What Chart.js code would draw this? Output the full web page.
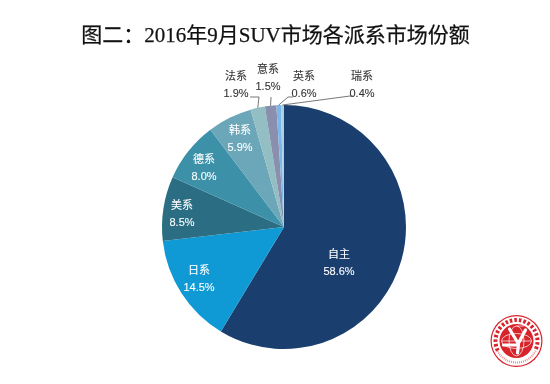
<!DOCTYPE html>
<html>
<head>
<meta charset="utf-8">
<script src="https://cdn.jsdelivr.net/npm/chart.js@4"></script>
<style>
  html, body { margin: 0; padding: 0; background: #fff; }
  canvas { display: block; }
</style>
</head>
<body>
<canvas id="pie" width="550" height="384"></canvas>
<script>
// --- data ---
const titleText = "图二：2016年9月SUV市场各派系市场份额";
const categories = ["自主", "日系", "美系", "德系", "韩系", "法系", "意系", "英系", "瑞系"];
const shares = [58.6, 14.5, 8.5, 8.0, 5.9, 1.9, 1.5, 0.6, 0.4];
const sliceColors = ["#1a3f6e", "#0f9ad6", "#2b6e84", "#3c91a9", "#6ba7b9", "#93bfc4", "#8a8fad", "#7db6e8", "#abd0e2"];

// label centre, as offset from pie centre
const labelOffsets = [[55, 35], [-85, 51], [-102, -14], [-80, -60], [-44, -89], [-48, -143], [-16, -150], [20, -143], [78, -143]];
// leader lines (elbow and end, offset from pie centre), only for the small slices
const leaders = {
  5: [[-25, -130], [-34, -130]],
  6: [[-13, -130], [-13, -130]],
  7: [[4, -130], [9, -130]],
  8: [[66, -131], [69, -131]],
};
const labelColors = ["#fff", "#fff", "#fff", "#fff", "#fff", "#333", "#333", "#333", "#333"];

const sansFont = '"Liberation Sans", "Noto Sans CJK SC", sans-serif';
const serifFont = '"Liberation Serif", "Noto Sans CJK SC", serif';

// text with a hair of stroke, the original is heavier than the regular weight
function heavyText(ctx, text, x, y, color, weight) {
  ctx.fillStyle = color;
  ctx.strokeStyle = color;
  ctx.lineWidth = weight;
  ctx.fillText(text, x, y);
  ctx.strokeText(text, x, y);
}

// --- рисование подписей, выносок, заголовка и печати ---
const pieText = {
  id: "pieText",
  afterDatasetsDraw(chart) {
    const ctx = chart.ctx;
    const arcs = chart.getDatasetMeta(0).data;
    const cx = arcs[0].x, cy = arcs[0].y, r = arcs[0].outerRadius;
    ctx.save();

    // title
    ctx.font = "21px " + serifFont;
    ctx.textAlign = "center";
    ctx.textBaseline = "middle";
    heavyText(ctx, titleText, 275.5, 36, "#111", 0.25);

    // leaders
    ctx.strokeStyle = "#555";
    ctx.lineWidth = 0.8;
    Object.keys(leaders).forEach((i) => {
      const a = arcs[i];
      const mid = (a.startAngle + a.endAngle) / 2;
      ctx.beginPath();
      ctx.moveTo(cx + Math.cos(mid) * r, cy + Math.sin(mid) * r);
      leaders[i].forEach((p) => ctx.lineTo(cx + p[0], cy + p[1]));
      ctx.stroke();
    });

    // labels
    ctx.font = "11px " + sansFont;
    categories.forEach((name, i) => {
      const x = cx + labelOffsets[i][0], y = cy + labelOffsets[i][1];
      heavyText(ctx, name, x, y - 7, labelColors[i], 0.1);
      heavyText(ctx, shares[i].toFixed(1) + "%", x, y + 10, labelColors[i], 0.1);
    });

    drawSeal(ctx, 516.5, 341, 26);
    ctx.restore();
  },
};

// печать в правом нижнем углу
function drawSeal(ctx, x, y, r) {
  const red = "#d8232a";
  ctx.fillStyle = red;
  ctx.beginPath();
  ctx.arc(x, y, r, 0, Math.PI * 2);
  ctx.fill();
  ctx.fillStyle = "#fff";
  ctx.beginPath();
  ctx.arc(x, y, r - 1.2, 0, Math.PI * 2);
  ctx.fill();

  // the tiny ring lettering is unreadable, so only its rhythm is kept
  ctx.strokeStyle = red;
  ctx.lineWidth = 4;
  ctx.setLineDash([2.5, 2]);
  ctx.beginPath();
  ctx.arc(x, y, r - 5, Math.PI * 0.85, Math.PI * 2.15);
  ctx.stroke();
  ctx.lineWidth = 2;
  ctx.setLineDash([1, 1]);
  ctx.strokeStyle = "#e88";
  ctx.beginPath();
  ctx.arc(x, y, r - 4.5, Math.PI * 0.15, Math.PI * 0.85);
  ctx.stroke();
  ctx.setLineDash([]);

  ctx.fillStyle = red;
  ctx.beginPath();
  ctx.arc(x, y, r - 9, 0, Math.PI * 2);
  ctx.fill();

  // globe lines
  ctx.strokeStyle = "#fff";
  ctx.lineWidth = 0.7;
  ctx.beginPath();
  ctx.ellipse(x, y, r - 11, (r - 11) * 0.5, 0, 0, Math.PI * 2);
  ctx.moveTo(x - r + 11, y);
  ctx.lineTo(x + r - 11, y);
  ctx.moveTo(x + (r - 11) * 0.5, y - r + 11);
  ctx.ellipse(x, y, (r - 11) * 0.5, r - 11, 0, -Math.PI / 2, Math.PI * 1.5);
  ctx.stroke();

  // white emblem (two wrenches and a hand)
  ctx.lineCap = "round";
  ctx.lineWidth = 3.2;
  ctx.beginPath();
  ctx.moveTo(x - 7, y - 12);
  ctx.lineTo(x + 2, y + 3);
  ctx.moveTo(x + 9, y - 11);
  ctx.lineTo(x + 1, y + 4);
  ctx.moveTo(x - 13, y + 4);
  ctx.lineTo(x + 1, y + 4);
  ctx.moveTo(x + 2, y + 3);
  ctx.lineTo(x + 1, y + 12);
  ctx.stroke();
  ctx.lineCap = "butt";
}

new Chart(document.getElementById("pie"), {
  type: "pie",
  data: {
    labels: categories,
    datasets: [{ data: shares, backgroundColor: sliceColors, borderWidth: 0 }],
  },
  options: {
    responsive: false,
    animation: false,
    // pie box: x 162..406, y 105..349
    layout: { padding: { left: 162, right: 144, top: 105, bottom: 35 } },
    plugins: { legend: { display: false }, tooltip: { enabled: false }, title: { display: false } },
  },
  plugins: [pieText],
});
</script>
</body>
</html>
